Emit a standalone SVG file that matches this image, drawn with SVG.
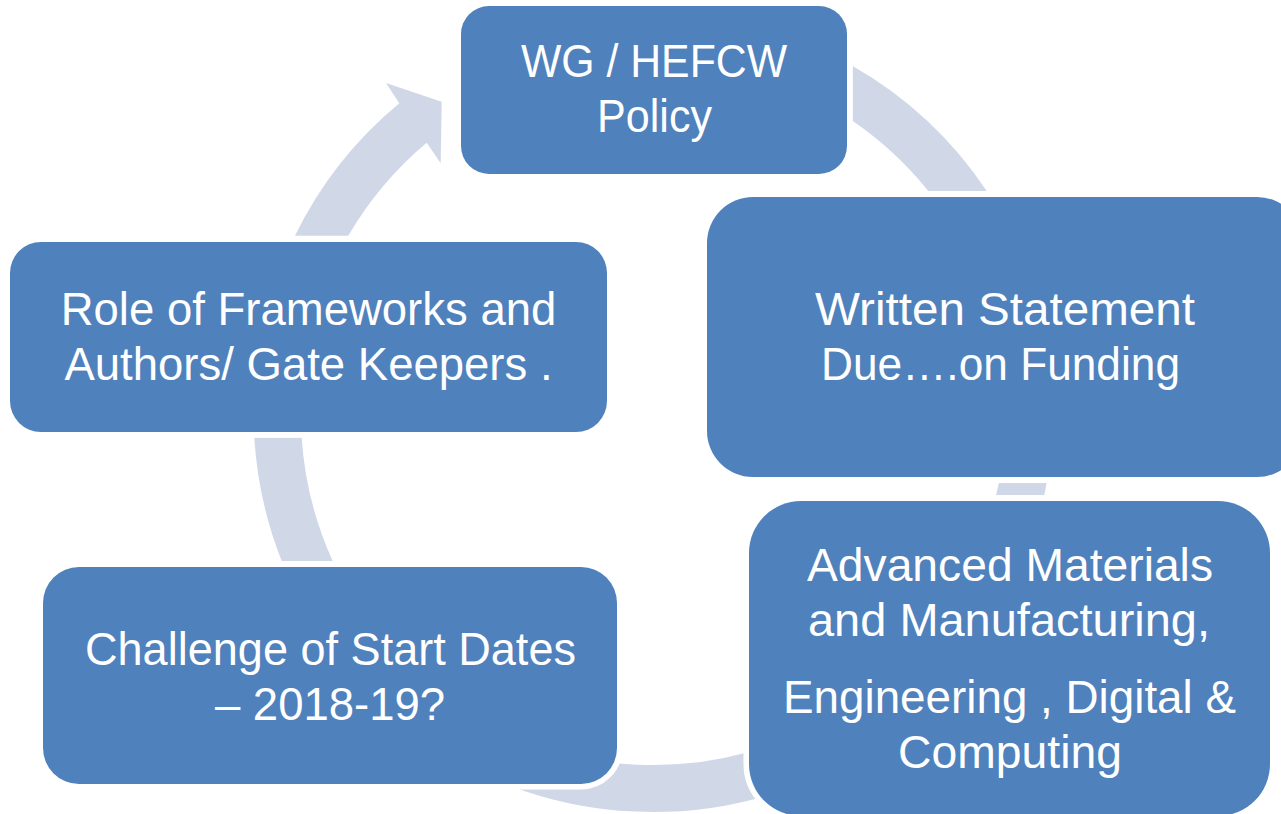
<svg xmlns="http://www.w3.org/2000/svg" width="1281" height="814" viewBox="0 0 1281 814">
<style>
.ring{fill:#D0D8E8;stroke:none}
.ringline{fill:none;stroke:#D0D8E8;stroke-width:47}
.box{fill:#4F81BD;stroke:#FFFFFF;stroke-width:11;paint-order:stroke fill}
.lbl{fill:#FFFFFF;font-family:"Liberation Sans",Arial,sans-serif;font-size:45.5px;text-anchor:middle}
</style>
<rect x="0" y="0" width="1281" height="814" fill="#FFFFFF"/>
<g id="connectors">
<path class="ring" d="M 295,235.7 A 400 400 0 0 1 399.3,103.3 L 386,83 L 441.7,101.7 L 440.7,163.3 L 426.7,142.7 A 353 353 0 0 0 348.3,235.7 Z"/>
<path class="ring" d="M 852.7,66 A 400 400 0 0 1 986.7,191 L 928.3,191 A 353 353 0 0 0 852.7,121 Z"/>
<path class="ring" d="M 1046.6,483 A 400 400 0 0 1 1044.3,495 L 996.1,495 A 353 353 0 0 0 998.8,483 Z"/>
<path class="ringline" d="M 464.75,738.05 A 376.5 376.5 0 0 0 812.1,753.2"/>
<path class="ring" d="M 301.7,437.7 L 254.3,437.7 A 400 400 0 0 0 281.7,561 L 332.7,561 A 353 353 0 0 1 301.7,437.7 Z"/>
</g>
<g id="node1">
<rect class="box" x="461" y="6" width="386" height="168" rx="28"/>
<text class="lbl" x="654" y="77" textLength="266" lengthAdjust="spacingAndGlyphs">WG / HEFCW</text>
<text class="lbl" x="654.5" y="132" textLength="115" lengthAdjust="spacingAndGlyphs">Policy</text>
</g>
<g id="node2">
<rect class="box" x="707" y="197" width="596" height="280" rx="46"/>
<text class="lbl" x="1005" y="325" textLength="380" lengthAdjust="spacingAndGlyphs">Written Statement</text>
<text class="lbl" x="1000.5" y="380" textLength="359" lengthAdjust="spacingAndGlyphs">Due….on Funding</text>
</g>
<g id="node3">
<rect class="box" x="749" y="501" width="521" height="315" rx="52"/>
<text class="lbl" x="1010" y="581" textLength="406" lengthAdjust="spacingAndGlyphs">Advanced Materials</text>
<text class="lbl" x="1009" y="636" textLength="402" lengthAdjust="spacingAndGlyphs">and Manufacturing,</text>
<text class="lbl" x="1009.5" y="713" textLength="453" lengthAdjust="spacingAndGlyphs">Engineering , Digital &amp;</text>
<text class="lbl" x="1010" y="768" textLength="224" lengthAdjust="spacingAndGlyphs">Computing</text>
</g>
<g id="node4">
<rect class="box" x="43" y="567" width="574" height="217" rx="36"/>
<text class="lbl" x="330.5" y="665" textLength="491" lengthAdjust="spacingAndGlyphs">Challenge of Start Dates</text>
<text class="lbl" x="330" y="720">– 2018-19?</text>
</g>
<g id="node5">
<rect class="box" x="10" y="242" width="597" height="190" rx="31"/>
<text class="lbl" x="308.5" y="325">Role of Frameworks and</text>
<text class="lbl" x="308.5" y="380">Authors/ Gate Keepers .</text>
</g>
</svg>
